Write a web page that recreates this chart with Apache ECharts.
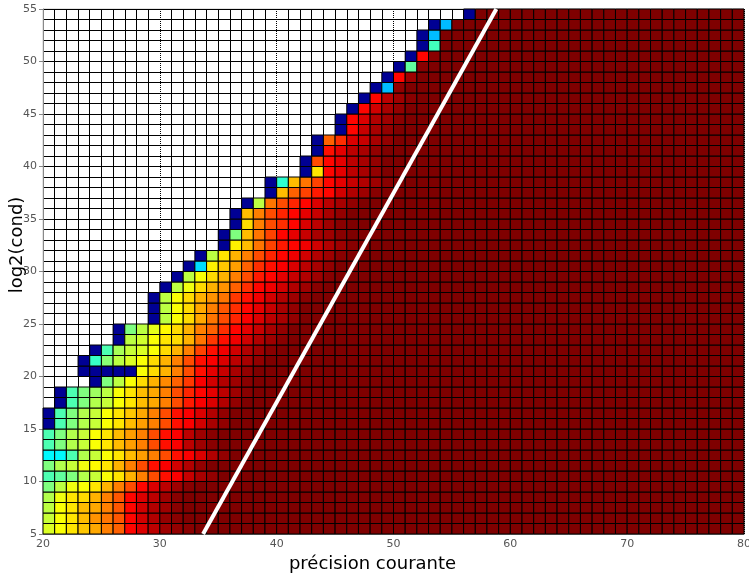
<!DOCTYPE html>
<html>
<head>
<meta charset="utf-8">
<script src="https://cdn.jsdelivr.net/npm/echarts@6/dist/echarts.min.js"></script>
<style>
  html, body { margin: 0; padding: 0; background: #fff; }
  #precision-chart { width: 749px; height: 573px; }
</style>
</head>
<body>
<div id="precision-chart"></div>
<script>
// rows y = 5 .. 54, one cell per integer x (20 .. 79)
const yStart = 5;
const xMin = 20;
const xMax = 80;
// first column with data on each row
const rowStart = [
  20, 20, 20, 20, 20, 20, 20, 20, 20, 20,
  20, 20, 21, 21, 24, 23, 23, 24, 26, 26,
  29, 29, 29, 30, 31, 32, 33, 35, 35, 36,
  36, 37, 39, 39, 42, 42, 43, 43, 45, 45,
  46, 47, 48, 49, 50, 51, 52, 52, 53, 56,
];
// cell values from rowStart onward; past the end of a row every cell is saturated
const satValue = 100;
const rowVals = [
  [59, 62, 65, 68, 71, 75, 78, 87, 91, 94, 97, 98, 99],
  [57, 62, 65, 69, 73, 76, 79, 87, 92, 95, 98, 99],
  [56, 62, 65, 69, 71, 75, 79, 87, 92, 95, 97, 99],
  [55, 61, 65, 66, 70, 75, 79, 87, 91, 94, 97, 99],
  [50, 56, 61, 62, 65, 70, 75, 80, 87, 91, 94, 97, 99],
  [45, 47, 50, 55, 57, 62, 65, 70, 75, 80, 86, 88, 93, 96, 98],
  [50, 55, 57, 61, 63, 65, 70, 75, 80, 86, 88, 92, 95, 98],
  [37, 37, 45, 55, 57, 62, 65, 69, 72, 75, 80, 86, 88, 91, 95, 98],
  [45, 50, 55, 57, 62, 65, 69, 72, 75, 80, 86, 88, 94, 97, 99],
  [45, 50, 55, 57, 62, 65, 69, 72, 75, 80, 86, 88, 94, 97, 99],
  [2, 45, 50, 55, 57, 62, 65, 69, 72, 75, 80, 86, 88, 92, 96, 98],
  [2, 45, 50, 55, 57, 62, 65, 68, 71, 75, 80, 86, 88, 91, 95, 98],
  [2, 45, 50, 55, 57, 62, 65, 69, 71, 75, 80, 85, 88, 91, 95, 98],
  [2, 45, 50, 53, 56, 62, 65, 69, 71, 75, 80, 84, 87, 90, 94, 97, 99],
  [2, 50, 56, 62, 66, 70, 74, 78, 82, 88, 92, 95, 97, 99],
  [2, 2, 2, 2, 2, 62, 66, 70, 75, 80, 86, 90, 93, 96, 98],
  [2, 43, 51, 56, 59, 62, 66, 70, 75, 80, 86, 88, 91, 94, 96, 98],
  [2, 45, 54, 57, 59, 62, 66, 70, 75, 81, 86, 89, 92, 95, 97, 99],
  [2, 56, 58, 62, 65, 66, 70, 76, 82, 86, 89, 92, 95, 97, 99],
  [2, 50, 56, 60, 63, 66, 70, 75, 78, 83, 87, 90, 93, 96, 98],
  [2, 56, 62, 66, 71, 76, 80, 84, 88, 91, 94, 96, 98],
  [2, 56, 62, 66, 71, 75, 79, 83, 87, 90, 93, 96, 98],
  [2, 56, 62, 66, 70, 73, 76, 82, 86, 89, 92, 95, 97, 99],
  [2, 56, 61, 66, 70, 73, 78, 83, 87, 89, 92, 95, 97, 99],
  [2, 56, 62, 66, 70, 75, 80, 85, 87, 90, 93, 95, 97, 99],
  [2, 34, 64, 68, 72, 78, 83, 86, 88, 91, 94, 96, 98],
  [2, 56, 65, 70, 75, 80, 84, 87, 89, 92, 95, 97, 99],
  [2, 64, 69, 76, 81, 85, 87, 89, 92, 95, 97, 99],
  [2, 50, 69, 76, 81, 87, 90, 93, 96, 97, 99],
  [2, 66, 75, 80, 83, 87, 91, 94, 97, 99],
  [2, 69, 75, 80, 84, 87, 90, 93, 96, 98],
  [2, 56, 76, 80, 84, 87, 91, 94, 96, 98],
  [2, 69, 78, 81, 85, 87, 92, 95, 97, 99],
  [2, 42, 69, 76, 81, 87, 90, 93, 95, 97, 99],
  [2, 65, 87, 90, 94, 96, 98],
  [2, 80, 87, 90, 94, 96, 98],
  [2, 86, 90, 94, 96, 98],
  [2, 78, 83, 91, 93, 96, 98],
  [2, 87, 93, 96, 98],
  [2, 87, 91, 95, 97, 99],
  [2, 87, 92, 96, 98],
  [2, 87, 94, 97, 99],
  [2, 31, 98],
  [2, 87, 97],
  [2, 47, 99],
  [2, 87, 99],
  [2, 44],
  [2, 31],
  [2, 31],
  [2],
];
// white reference line
const lineX = [33.7, 58.8];
const lineY = [5, 55];

const jet = ["#00007f", "#0000ff", "#007fff", "#00ffff", "#7fff7f", "#ffff00", "#ff7f00", "#ff0000", "#7f0000"];

const cells = [];
rowStart.forEach((start, r) => {
  const vals = rowVals[r];
  for (let x = start; x < xMax; x++) {
    const i = x - start;
    cells.push([x, yStart + r, i < vals.length ? vals[i] : satValue]);
  }
});

const chart = echarts.init(document.getElementById("precision-chart"));

function renderCell(params, api) {
  const p0 = api.coord([api.value(0), api.value(1) + 1]);
  const p1 = api.coord([api.value(0) + 1, api.value(1)]);
  return {
    type: "rect",
    shape: { x: p0[0], y: p0[1], width: p1[0] - p0[0], height: p1[1] - p0[1] },
    style: { fill: api.visual("color"), stroke: "#000", lineWidth: 1 },
  };
}

const labelStyle = {
  color: "#555",
  fontFamily: "DejaVu Sans",
  fontSize: 11,
};

let option = {
  animation: false,
  backgroundColor: "#fff",
  grid: {
    left: 43,
    right: 5,
    top: 9,
    bottom: 39,
    containLabel: false,
    outerBoundsMode: "none",
    show: true,
    borderColor: "#c8c8c8",
    borderWidth: 1,
  },
  // y axis title sits a little above the middle of the axis
  graphic: [
    {
      type: "text",
      x: 17,
      y: 245,
      rotation: Math.PI / 2,
      style: {
        text: "log2(cond)",
        fill: "#000",
        fontFamily: "DejaVu Sans",
        fontSize: 18,
        align: "center",
        verticalAlign: "middle",
      },
    },
  ],
  xAxis: {
    type: "value",
    min: xMin,
    max: xMax,
    interval: 10,
    name: "précision courante",
    nameLocation: "middle",
    nameGap: 20,
    nameTextStyle: { color: "#000", fontFamily: "DejaVu Sans", fontSize: 18, padding: [0, 42, 0, 0] },
    axisLine: { lineStyle: { color: "#888", width: 1 } },
    axisTick: { show: false },
    axisLabel: { ...labelStyle, margin: 5 },
    splitLine: { show: true, lineStyle: { color: "#000", type: "dotted", width: 1 } },
    minorTick: { show: false, splitNumber: 10 },
    minorSplitLine: { show: true, lineStyle: { color: "#000", width: 1 } },
  },
  yAxis: {
    type: "value",
    min: yStart,
    max: 55,
    interval: 5,
    axisLine: { show: true, lineStyle: { color: "#888", width: 1 } },
    axisTick: { show: true, length: 4, lineStyle: { color: "#888" } },
    axisLabel: { ...labelStyle, margin: 6 },
    splitLine: { show: true, lineStyle: { color: "#000", width: 1 } },
    minorTick: { show: false, splitNumber: 5 },
    minorSplitLine: { show: true, lineStyle: { color: "#000", width: 1 } },
  },
  visualMap: {
    show: false,
    type: "continuous",
    min: 0,
    max: satValue,
    dimension: 2,
    seriesIndex: 0,
    inRange: { color: jet },
  },
  series: [
    {
      name: "cells",
      type: "custom",
      renderItem: renderCell,
      encode: { x: 0, y: 1 },
      data: cells,
      silent: true,
    },
    {
      name: "limit",
      type: "line",
      data: lineX.map((x, i) => [x, lineY[i]]),
      symbol: "none",
      silent: true,
      z: 5,
      lineStyle: { color: "#fff", width: 4 },
    },
  ],
};

chart.setOption(option);
</script>
</body>
</html>
